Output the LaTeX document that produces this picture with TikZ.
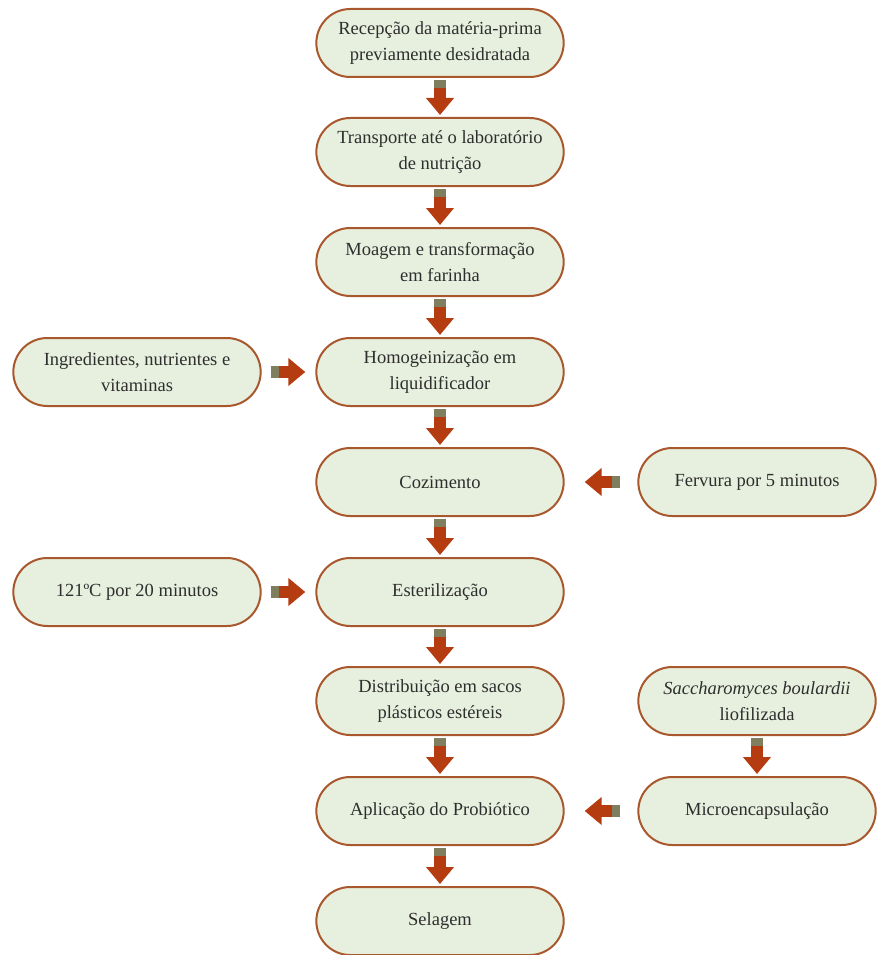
\documentclass[tikz,border=0pt]{standalone}
\usepackage{fontspec}
\setmainfont{Liberation Serif}
\usetikzlibrary{arrows.meta, shapes.misc, calc}
\definecolor{stepFill}{HTML}{E7F0DE}
\definecolor{stepEdge}{HTML}{A8582C}
\definecolor{arrRed}{HTML}{B43C10}
\definecolor{arrOlive}{HTML}{7F7E5E}
\definecolor{txtGrey}{HTML}{2E2E2E}

% block arrow: start anchor, offset, end anchor, offset
\newcommand{\flowarrow}[4]{%
  \coordinate (fa) at ($(#1)+(#2)$);
  \coordinate (fb) at ($(#3)+(#4)$);
  \draw[flowshaft] (fa) -- (fb);
  \draw[flowtail] (fa) -- ($(fa)!8pt!(fb)$);
}

\begin{document}
\begin{tikzpicture}[x=1pt, y=-1pt,
    stepbox/.style={draw=stepEdge, line width=2pt, fill=stepFill, rounded rectangle,
      minimum width=254pt, minimum height=68pt, align=center, text=txtGrey,
      font=\fontsize{18.5}{26.5}\selectfont},
    sidebox/.style={stepbox, minimum width=244pt},
    flowshaft/.style={draw=arrRed, line width=12pt, -{Triangle[width=27pt, length=17pt]}},
    flowtail/.style={draw=arrOlive, line width=12pt}]
  \useasboundingbox (0,0) rectangle (881,955);

  % main column
  \node[stepbox] (rec) at (440,43) {Recepção da matéria-prima\\previamente desidratada};
  \node[stepbox] (transp) at (440,152) {Transporte até o laboratório\\de nutrição};
  \node[stepbox] (moag) at (440,262) {Moagem e transformação\\em farinha};
  \node[stepbox] (homog) at (440,372) {Homogeinização em\\liquidificador};
  \node[stepbox] (coz) at (440,482) {Cozimento};
  \node[stepbox] (ester) at (440,592) {Esterilização};
  \node[stepbox] (distr) at (440,701) {Distribuição em sacos\\plásticos estéreis};
  \node[stepbox] (apl) at (440,811) {Aplicação do Probiótico};
  \node[stepbox] (sel) at (440,921) {Selagem};

  % side inputs
  \node[stepbox] (ingr) at (137,372) {Ingredientes, nutrientes e\\vitaminas};
  \node[stepbox] (temp) at (137,592) {121ºC por 20 minutos};
  \node[sidebox] (ferv) at (757,482) {Fervura por 5 minutos};
  \node[sidebox] (sacch) at (757,701) {\textit{Saccharomyces boulardii}\\liofilizada};
  \node[sidebox] (micro) at (757,811) {Microencapsulação};

  % arrows
  \flowarrow{rec.south}{0,2}{transp.north}{0,-2}
  \flowarrow{transp.south}{0,2}{moag.north}{0,-2}
  \flowarrow{moag.south}{0,2}{homog.north}{0,-2}
  \flowarrow{homog.south}{0,2}{coz.north}{0,-2}
  \flowarrow{coz.south}{0,2}{ester.north}{0,-2}
  \flowarrow{ester.south}{0,2}{distr.north}{0,-2}
  \flowarrow{distr.south}{0,2}{apl.north}{0,-2}
  \flowarrow{apl.south}{0,2}{sel.north}{0,-2}
  \flowarrow{ingr.east}{9,0}{homog.west}{-10,0}
  \flowarrow{temp.east}{9,0}{ester.west}{-10,0}
  \flowarrow{ferv.west}{-17,0}{coz.east}{20,0}
  \flowarrow{micro.west}{-17,0}{apl.east}{20,0}
  \flowarrow{sacch.south}{0,2}{micro.north}{0,-2}
\end{tikzpicture}
\end{document}
